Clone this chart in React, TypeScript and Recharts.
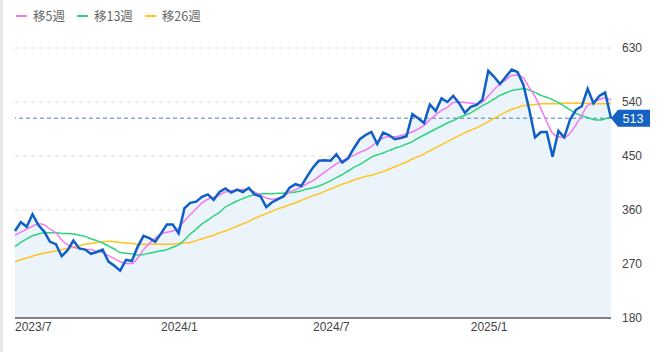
import React from 'react';
import {
  ComposedChart, Area, Line, XAxis, YAxis, CartesianGrid, ReferenceLine,
} from 'recharts';

// weekly close
const price = [
  325, 340, 332, 353, 335, 324, 307, 303, 283, 293, 309, 296, 294, 287, 290, 294, 274, 267, 259, 277,
  275, 299, 317, 313, 307, 321, 336, 336, 321, 363, 372, 374, 382, 386, 377, 390, 396, 389, 394, 390,
  397, 386, 383, 365, 373, 378, 383, 397, 403, 400, 416, 431, 442, 443, 442, 453, 439, 446, 463, 478,
  485, 490, 470, 489, 485, 478, 480, 483, 520, 513, 505, 536, 525, 546, 540, 550, 538, 522, 532, 535,
  544, 592, 582, 570, 582, 594, 590, 569, 528, 481, 490, 490, 449, 492, 481, 511, 527, 533, 562, 538,
  550, 556, 513,
];

const ma5 = [
  318, 323, 328, 333, 337, 335, 328, 322, 310, 302, 298, 296, 294, 294, 291, 289, 284, 279, 274, 271,
  271, 280, 294, 304, 313, 320, 323, 325, 330, 342, 352, 362, 372, 378, 381, 385, 390, 392, 393, 394,
  394, 390, 385, 380, 378, 379, 383, 390, 394, 398, 404, 409, 416, 423, 430, 437, 442, 447, 451, 456,
  460, 466, 474, 480, 482, 482, 484, 487, 490, 495, 501, 510, 519, 526, 531, 539, 540, 539, 538, 537,
  540, 550, 561, 570, 577, 584, 585, 580, 564, 549, 529, 507, 488, 482, 481, 488, 502, 518, 534, 539,
  544, 547, 543,
];

const ma13 = [
  299, 306, 312, 317, 320, 322, 322, 322, 321, 321, 320, 318, 316, 312, 309, 305, 300, 295, 289, 288,
  287, 285, 286, 288, 290, 292, 294, 298, 302, 310, 320, 328, 337, 343, 350, 356, 365, 370, 375, 379,
  383, 386, 387, 387, 387, 388, 388, 389, 390, 392, 395, 397, 400, 404, 409, 414, 419, 425, 431, 436,
  442, 448, 452, 455, 459, 463, 466, 470, 474, 480, 485, 490, 495, 500, 505, 509, 514, 518, 522, 528,
  534, 539, 545, 551, 555, 559, 561, 562, 560, 556, 551, 548, 544, 539, 533, 527, 521, 517, 514, 511,
  510, 512, 515,
];

const ma26 = [
  274, 277, 280, 283, 286, 288, 290, 292, 294, 296, 298, 300, 303, 304, 306, 307, 308, 307, 306, 305,
  304, 303, 303, 303, 303, 303, 303, 303, 304, 305, 306, 309, 312, 315, 318, 322, 325, 329, 333, 337,
  341, 346, 350, 354, 358, 362, 365, 369, 372, 376, 380, 384, 387, 391, 395, 399, 403, 406, 410, 413,
  416, 418, 421, 424, 428, 432, 436, 440, 445, 449, 453, 459, 464, 469, 474, 479, 484, 489, 493, 497,
  502, 507, 513, 518, 523, 528, 531, 534, 535, 536, 537, 537, 537, 537, 538, 538, 538, 538, 538, 537,
  537, 537, 537,
];

const xTicks = [0, 25, 51, 78];
const xTickLabels = ['2023/7', '2024/1', '2024/7', '2025/1'];
const yTicks = [180, 270, 360, 450, 540, 630];
const lastPrice = 513;

const legendItems = [
  { name: '移5週', color: '#f07af0' },
  { name: '移13週', color: '#2dd47c' },
  { name: '移26週', color: '#ffc51f' },
];

const data = price.map((p, i) => ({ i, price: p, ma5: ma5[i], ma13: ma13[i], ma26: ma26[i] }));

const XTick = (props: any) => {
  const { x, y, payload } = props;
  const idx = xTicks.indexOf(payload.value);
  return (
    <text x={x} y={y} dy={9} textAnchor="start" fill="#444" fontSize={12} fontFamily="'Liberation Sans', Arial, sans-serif">
      {xTickLabels[idx]}
    </text>
  );
};

const PriceTag = (props: any) => {
  const { viewBox } = props;
  if (!viewBox) return null;
  const x = viewBox.x + viewBox.width;
  const y = viewBox.y;
  return (
    <g>
      <path d={`M${x} ${y} L${x + 7} ${y - 8.5} H${x + 39} V${y + 8.5} H${x + 7} Z`} fill="#1462c4" />
      <text x={x + 22} y={y + 4.5} textAnchor="middle" fill="#fff" fontSize={12.5} fontFamily="'Liberation Sans', Arial, sans-serif">
        {lastPrice}
      </text>
    </g>
  );
};

export default function App() {
  return (
    <div style={{ position: 'absolute', left: 0, top: 0, width: 670, height: 352, background: '#fff' }}>
      <div style={{ position: 'absolute', left: 0, top: 0, width: 3, height: 352, background: '#e9e9e9' }} />
      <div
        style={{
          position: 'absolute', left: 16, top: 6, display: 'flex', alignItems: 'center',
          fontFamily: "'Noto Sans CJK JP', 'Noto Sans', sans-serif", fontSize: 12.5, color: '#666',
        }}
      >
        {legendItems.map((it) => (
          <div key={it.name} style={{ display: 'flex', alignItems: 'center', marginRight: 12 }}>
            <span style={{ display: 'inline-block', width: 11, height: 2, background: it.color, marginRight: 6 }} />
            <span>{it.name}</span>
          </div>
        ))}
      </div>
      <ComposedChart width={670} height={352} data={data} margin={{ top: 48, right: 0, bottom: 0, left: 15 }}>
        <CartesianGrid vertical={false} stroke="#dcdcdc" strokeDasharray="4 4" />
        <XAxis
          dataKey="i"
          type="number"
          domain={[0, price.length - 1]}
          ticks={xTicks}
          interval={0}
          tick={<XTick />}
          tickLine={false}
          tickSize={2}
          tickMargin={2}
          height={34}
          axisLine={{ stroke: '#5a5a5a', strokeWidth: 1.5 }}
        />
        <YAxis
          orientation="right"
          domain={[180, 630]}
          ticks={yTicks}
          interval={0}
          width={59}
          axisLine={false}
          tickLine={false}
          tickSize={0}
          tickMargin={11}
          tick={{ fill: '#444', fontSize: 12, fontFamily: "'Liberation Sans', Arial, sans-serif" }}
        />
        <Area
          dataKey="price"
          type="linear"
          stroke="none"
          fill="#ebf3fb"
          fillOpacity={1}
          isAnimationActive={false}
        />
        <ReferenceLine y={lastPrice} stroke="#4f80c2" strokeDasharray="4 3" label={<PriceTag />} />
        <Line dataKey="ma26" type="monotone" stroke="#ffc51f" strokeWidth={1.5} dot={false} isAnimationActive={false} />
        <Line dataKey="ma13" type="monotone" stroke="#2dd47c" strokeWidth={1.5} dot={false} isAnimationActive={false} />
        <Line dataKey="ma5" type="monotone" stroke="#f07af0" strokeWidth={1.5} dot={false} isAnimationActive={false} />
        <Line dataKey="price" type="linear" stroke="#0f5fc4" strokeWidth={2.5} dot={false} isAnimationActive={false} />
      </ComposedChart>
    </div>
  );
}
